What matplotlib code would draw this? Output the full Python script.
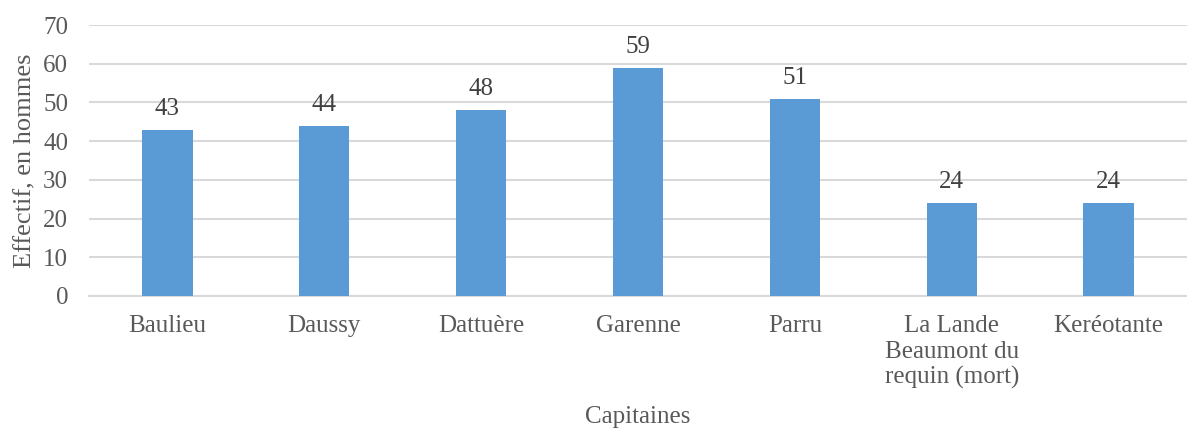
import matplotlib.pyplot as plt

capitaines = ["Baulieu", "Daussy", "Dattuère", "Garenne", "Parru",
              "La Lande\nBeaumont du\nrequin (mort)", "Keréotante"]
effectifs = [43, 44, 48, 59, 51, 24, 24]

plt.rcParams["font.family"] = ["Liberation Serif", "DejaVu Serif"]
text_color = "#595959"

fig = plt.figure(figsize=(11.87, 4.32), dpi=100)
ax = fig.add_axes([0.075, 0.315, 0.925, 0.627])

x = range(len(capitaines))
bars = ax.bar(x, effectifs, width=0.32, color="#5B9BD5", zorder=3)
ax.bar_label(bars, padding=7, fontsize=18, color="#404040")

ax.set_xlim(-0.5, len(capitaines) - 0.5)
ax.set_ylim(0, 70)
ax.set_yticks(range(0, 71, 10))
ax.set_xticks(list(x))
ax.set_xticklabels(capitaines, fontsize=18, color=text_color, linespacing=1.2)
ax.tick_params(axis="y", labelsize=18, labelcolor=text_color, length=0, pad=15)
ax.tick_params(axis="x", length=0, pad=14)

ax.grid(axis="y", color="#D9D9D9", linewidth=1.5, zorder=0)
for side in ["top", "right", "left"]:
    ax.spines[side].set_visible(False)
ax.spines["bottom"].set_color("#D9D9D9")
ax.spines["bottom"].set_linewidth(1.5)

ax.set_xlabel("Capitaines", fontsize=18, color=text_color, labelpad=12)
ax.set_ylabel("Effectif, en hommes", fontsize=19, color=text_color, labelpad=5)

plt.savefig("out.png", dpi=100)
